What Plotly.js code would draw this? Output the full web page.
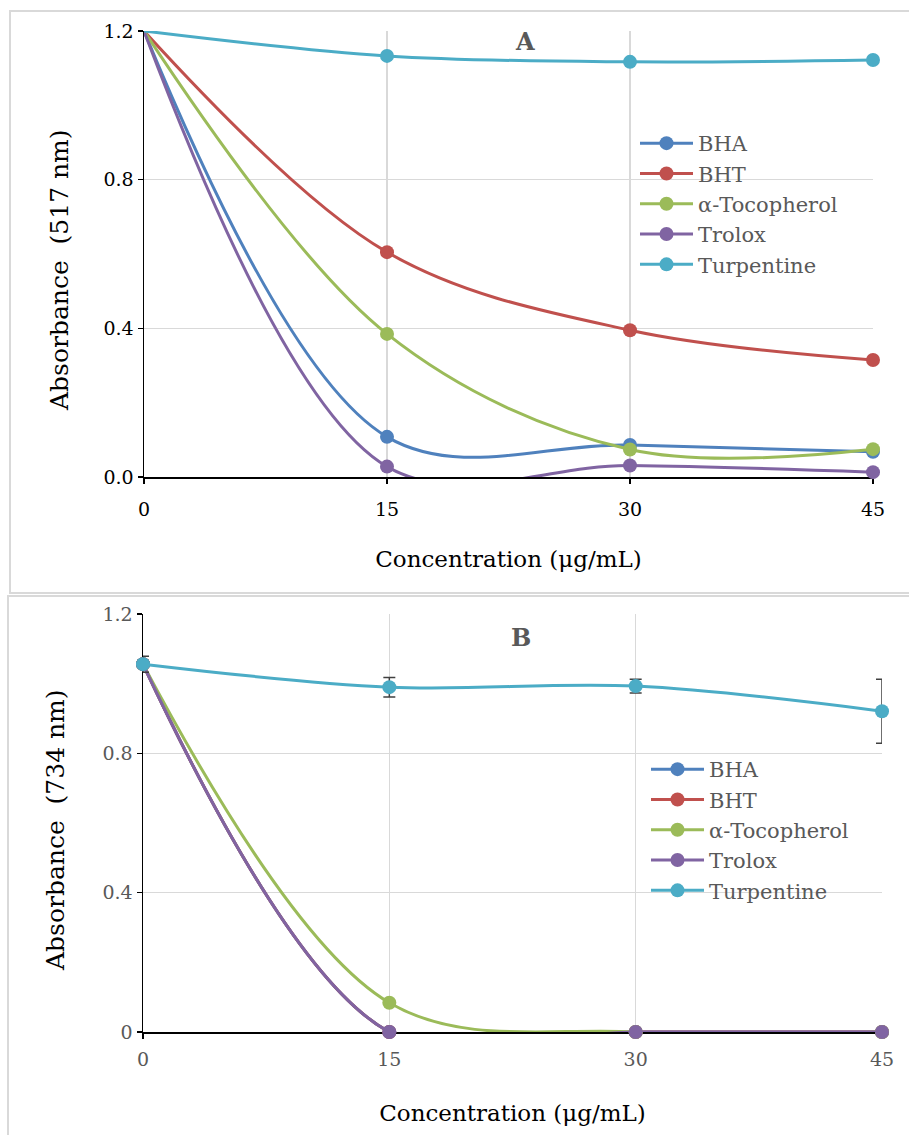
<!DOCTYPE html>
<html><head><meta charset="utf-8">
<script src="https://cdn.plot.ly/plotly-3.0.1.min.js"></script>
<style>html,body{margin:0;padding:0;background:#fff}#chart{width:909px;height:1135px}</style>
</head><body><div id="chart"></div>
<script>
// ---- data ----
const conc = [0, 15, 30, 45];
const seriesNames = ['BHA', 'BHT', 'α-Tocopherol', 'Trolox', 'Turpentine'];
// Panel A: DPPH, absorbance at 517 nm
const dpphBHA = [1.2, 0.108, 0.086, 0.068];
const dpphBHT = [1.2, 0.605, 0.395, 0.315];
const dpphToc = [1.2, 0.385, 0.074, 0.075];
const dpphTrolox = [1.2, 0.028, 0.031, 0.013];
const dpphTurp = [1.2, 1.133, 1.117, 1.122];
// Panel B: ABTS, absorbance at 734 nm
const abtsBHA = [1.056, 0, 0, 0];
const abtsBHT = [1.056, 0, 0, 0];
const abtsToc = [1.056, 0.084, 0, 0];
const abtsTrolox = [1.056, 0, 0, 0];
const abtsTurp = [1.056, 0.99, 0.993, 0.921];
const abtsTurpErr = [0.023, 0.028, 0.02, 0.092];
const xTickLabels = ['0', '15', '30', '45'];
const titleA = 'Absorbance \u00a0(517 nm)';
const titleB = 'Absorbance \u00a0(734 nm)';
const xTitle = 'Concentration (μg/mL)';

// ---- styling ----
const colors = ['#4f81bd', '#c0504d', '#9bbb59', '#8064a2', '#4bacc6'];
const W = 909, H = 1135;
const px = x => x / W, py = y => 1 - y / H;
const FONT = 'DejaVu Serif';

const dataA = [dpphBHA, dpphBHT, dpphToc, dpphTrolox, dpphTurp];
const dataB = [abtsBHA, abtsBHT, abtsToc, abtsTrolox, abtsTurp];
// in panel A the markers at concentration 0 are not shown
const shownA = conc.map((c, j) => j).filter(j => conc[j] !== 0);

const traces = [];
dataA.forEach((vals, i) => {
  traces.push({
    x: conc, y: vals, type: 'scatter', mode: 'lines+markers',
    name: seriesNames[i], xaxis: 'x', yaxis: 'y', legend: 'legend',
    legendgroup: 'a' + i,
    line: {color: colors[i], width: 3, shape: 'spline', smoothing: 1},
    marker: {color: colors[i], size: 14, opacity: 1},
    selectedpoints: shownA,
    selected: {marker: {opacity: 1}},
    unselected: {marker: {opacity: 0}},
    cliponaxis: false
  });
});
dataB.forEach((vals, i) => {
  const t = {
    x: conc, y: vals, type: 'scatter', mode: 'lines+markers',
    name: seriesNames[i], xaxis: 'x2', yaxis: 'y2', legend: 'legend2',
    legendgroup: 'b' + i,
    line: {color: colors[i], width: 3, shape: 'spline', smoothing: 1},
    marker: {color: colors[i], size: 14},
    cliponaxis: false
  };
  if (i === 4) {
    t.error_y = {type: 'data', array: abtsTurpErr, visible: true, color: '#404040', thickness: 1.5, width: 6};
  }
  traces.push(t);
});

const gridC = '#d9d9d9';
function xAx(domain, anchor, tickColor, labelStandoff, titleStandoff) {
  return {
    domain, anchor, range: [0, 45], tickvals: conc, ticktext: xTickLabels,
    showgrid: true, gridcolor: gridC, gridwidth: 1.5, zeroline: false,
    showline: true, linecolor: '#000', linewidth: 1.5,
    ticks: 'outside', ticklen: 5, tickwidth: 1.5, tickcolor: '#000',
    ticklabelstandoff: labelStandoff,
    tickfont: {family: FONT, size: 19, color: tickColor},
    title: {text: xTitle, font: {family: FONT, size: 23, color: '#000'}, standoff: titleStandoff},
    layer: 'below traces', fixedrange: true
  };
}
function yAx(domain, anchor, tickColor, fmt) {
  return {
    domain, anchor, range: [0, 1.2], dtick: 0.4, tick0: 0, tickformat: fmt,
    showgrid: true, gridcolor: gridC, gridwidth: 1.5, zeroline: false,
    showline: true, linecolor: '#000', linewidth: 1.5,
    ticks: 'outside', ticklen: 5, tickwidth: 1.5, tickcolor: '#000',
    tickfont: {family: FONT, size: 19, color: tickColor},
    layer: 'below traces', fixedrange: true
  };
}

const layout = {
  width: W, height: H, margin: {l: 0, r: 0, t: 0, b: 0},
  paper_bgcolor: '#fff', plot_bgcolor: 'rgba(0,0,0,0)',
  showlegend: true,
  xaxis: xAx([px(144), px(873)], 'y', '#000', 10, 31),
  yaxis: yAx([py(477), py(31)], 'x', '#000', '.1f'),
  xaxis2: xAx([px(143), px(882)], 'y2', '#595959', 5, 35),
  yaxis2: yAx([py(1032), py(614)], 'x2', '#595959', ''),
  legend: {
    x: px(635), y: py(123), xanchor: 'left', yanchor: 'top', itemwidth: 53,
    bgcolor: 'rgba(0,0,0,0)', borderwidth: 0, traceorder: 'grouped', tracegroupgap: 0,
    font: {family: FONT, size: 21, color: '#595959'}
  },
  legend2: {
    x: px(646), y: py(749), xanchor: 'left', yanchor: 'top', itemwidth: 53,
    bgcolor: 'rgba(0,0,0,0)', borderwidth: 0, traceorder: 'grouped', tracegroupgap: 0,
    font: {family: FONT, size: 21, color: '#595959'}
  },
  annotations: [
    {text: '<b>A</b>', x: px(525), y: py(41), xref: 'paper', yref: 'paper', showarrow: false,
     yanchor: 'middle', font: {family: FONT, size: 24, color: '#595959'}},
    {text: '<b>B</b>', x: px(521), y: py(637), xref: 'paper', yref: 'paper', showarrow: false,
     yanchor: 'middle', font: {family: FONT, size: 24, color: '#595959'}},
    {text: titleA, x: px(60), y: py(270), xref: 'paper', yref: 'paper', showarrow: false,
     textangle: -90, xanchor: 'center', yanchor: 'middle', font: {family: FONT, size: 25, color: '#000'}},
    {text: titleB, x: px(55), y: py(830), xref: 'paper', yref: 'paper', showarrow: false,
     textangle: -90, xanchor: 'center', yanchor: 'middle', font: {family: FONT, size: 25, color: '#000'}}
  ],
  shapes: [
    {type: 'rect', xref: 'paper', yref: 'paper', x0: px(10), x1: 1.05, y0: py(593), y1: py(11),
     line: {color: gridC, width: 2}, layer: 'below'},
    {type: 'rect', xref: 'paper', yref: 'paper', x0: px(8), x1: 1.05, y0: -0.05, y1: py(596),
     line: {color: gridC, width: 2}, layer: 'below'}
  ]
};

Plotly.newPlot('chart', traces, layout, {staticPlot: true, displayModeBar: false});
</script>
</body></html>
